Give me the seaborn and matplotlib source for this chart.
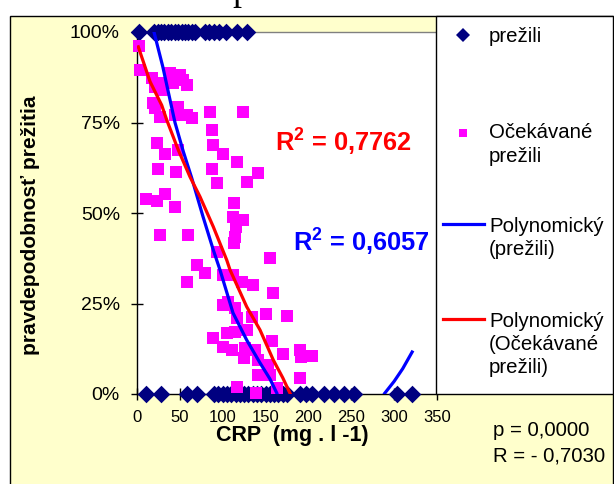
import numpy as np
import pandas as pd
import matplotlib
matplotlib.use("Agg")
import matplotlib.pyplot as plt
import seaborn as sns
from matplotlib.patches import Rectangle
from matplotlib.lines import Line2D
from matplotlib.ticker import PercentFormatter

# ---------------- data ----------------
survived_top_x = [2, 20, 24, 28, 32, 36, 40, 44, 48, 52, 56, 60, 64, 68,
                  79, 84, 90, 96, 104, 117, 128]
survived_bottom_x = [10, 28, 58, 70, 90, 95, 100, 105, 110, 115, 120, 125,
                     130, 135, 140, 145, 150, 155, 160, 165, 170, 175, 190,
                     197, 204, 218, 230, 241, 253, 303, 321]

expected_x = [2.7, 3.5, 17.1, 26.8, 38.5, 50.2, 54.0, 58.0, 42.4, 30.7, 21.0,
              19.0, 21.0, 48.2, 26.8, 44.3, 58.0, 63.8, 85.2, 124.0, 87.5,
              23.0, 32.7, 48.2, 89.0, 100.0, 117.0, 24.9, 45.5, 87.2, 141.5,
              93.0, 128.7, 10.5, 23.0, 32.7, 44.3, 113.5, 112.4, 124.0, 115.5,
              114.3, 113.5, 26.8, 59.2, 93.7, 155.2, 70.4, 79.3, 58.7, 100.0,
              112.4, 122.2, 135.7, 159.0, 100.7, 106.5, 114.3, 117.0, 133.8,
              150.5, 175.4, 89.0, 104.7, 114.3, 100.7, 110.5, 126.0, 137.7,
              157.2, 170.7, 190.2, 191.0, 203.8, 124.8, 141.5, 153.2, 141.5,
              155.2, 190.2, 117.0, 138.8, 163.0, 128.0]
expected_y = [96.2, 89.5, 87.2, 85.8, 88.6, 88.1, 86.7, 85.4, 85.8, 84.0, 84.9,
              80.3, 78.9, 79.4, 76.6, 77.1, 77.1, 76.2, 77.8, 77.8, 72.9,
              69.3, 66.2, 67.4, 68.8, 66.2, 64.0, 62.2, 61.4, 62.2, 61.0,
              58.2, 58.6, 53.8, 53.3, 55.2, 51.6, 52.8, 49.0, 48.1, 46.2,
              43.5, 41.6, 43.9, 43.9, 39.3, 37.5, 35.6, 33.3, 31.0, 32.9,
              32.9, 31.0, 30.1, 27.8, 24.6, 25.5, 23.7, 20.9, 21.4,
              22.1, 21.5, 15.4, 16.9, 17.2, 13.1, 12.2, 12.6, 12.2,
              14.7, 11.0, 12.2, 10.3, 10.5, 9.9, 9.4, 8.0, 5.2,
              5.2, 4.3, 2.0, 0.4, 1.6, 17.7]

# trend line "Polynomický (prežili)" - two visible pieces
poly_surv_x = [19.8, 30, 44.3, 54, 63.8, 77, 89, 96.8, 112, 128, 143.5, 155, 163,
               289, 300, 310, 321]
poly_surv_y = [100, 90.5, 75, 67, 59.7, 49, 39.8, 34.3, 22.4, 14.9, 8.6, 4.2, 0.3,
               0.2, 3.5, 7.0, 11.6]
poly_surv_seg = [1] * 13 + [2] * 4

# trend line "Polynomický (Očekávané prežili)"
poly_exp_x = [1.5, 15.2, 28.8, 34.7, 48, 61.8, 73.5, 89, 104.7, 108.5, 128,
              143.5, 159, 170, 178.5]
poly_exp_y = [95.9, 86.3, 79.8, 75.7, 67.5, 60, 54.5, 46.2, 37, 34.3, 24.1,
              17.7, 9.4, 4.5, 0.2]

x_ticks = [0, 50, 100, 150, 200, 250, 300, 350]
y_ticks = [0, 0.25, 0.5, 0.75, 1.0]

legend_labels = ["prežili", ["Očekávané", "prežili"], ["Polynomický", "(prežili)"],
                 ["Polynomický", "(Očekávané", "prežili)"]]

# ---------------- styling ----------------
plt.rcParams['font.family'] = ['Liberation Sans', 'DejaVu Sans']
plt.rcParams['mathtext.fontset'] = 'custom'
plt.rcParams['mathtext.rm'] = 'Liberation Sans'
plt.rcParams['mathtext.bf'] = 'Liberation Sans:bold'

NAVY = '#000080'
PINK = '#FF00FF'
BLUE = '#0000FF'
RED = '#FF0000'
YELLOW = '#FFFFCC'

W, H = 614, 484
def fx(px):
    return px / W
def fy(py):
    return 1 - py / H

fig = plt.figure(figsize=(W / 100, H / 100), dpi=100)
fig.patch.set_facecolor('white')

# chart area background with border
fig.add_artist(Rectangle((fx(9.5), -0.02), fx(612.5) - fx(9.5), fy(15.5) + 0.02,
                         transform=fig.transFigure, facecolor=YELLOW,
                         edgecolor='black', linewidth=1, zorder=-5))

# partially visible title above the chart (only its descender shows)
fig.text(fx(232), fy(0), 'p', family=['Liberation Serif', 'DejaVu Serif'],
         fontsize=26, va='baseline', ha='left', color='black')

ax = fig.add_axes([fx(137), fy(394), (437 - 137) / W, (394 - 32) / H])
ax.set_facecolor('white')

df_surv = pd.DataFrame({
    'x': survived_top_x + survived_bottom_x,
    'y': [1.0] * len(survived_top_x) + [0.0] * len(survived_bottom_x)})
df_exp = pd.DataFrame({'x': expected_x, 'y': np.array(expected_y) / 100})
df_ps = pd.DataFrame({'x': poly_surv_x, 'y': np.array(poly_surv_y) / 100,
                      'seg': poly_surv_seg})
df_pe = pd.DataFrame({'x': poly_exp_x, 'y': np.array(poly_exp_y) / 100})

sns.scatterplot(data=df_surv, x='x', y='y', marker='D', s=80, color=NAVY,
                linewidth=0, clip_on=False, zorder=3, ax=ax, legend=False)
sns.scatterplot(data=df_exp, x='x', y='y', marker='s', s=66, color=PINK,
                linewidth=0, clip_on=False, zorder=4, ax=ax, legend=False)
sns.lineplot(data=df_ps, x='x', y='y', units='seg', estimator=None, sort=False,
             color=BLUE, linewidth=2.3, zorder=5, ax=ax, legend=False)
sns.lineplot(data=df_pe, x='x', y='y', estimator=None, sort=False,
             color=RED, linewidth=2.3, zorder=6, ax=ax, legend=False)

ax.set_xlim(0, 350)
ax.set_ylim(0, 1)
ax.set_xticks(x_ticks)
ax.set_yticks(y_ticks)
ax.yaxis.set_major_formatter(PercentFormatter(xmax=1, decimals=0))
ax.tick_params(direction='inout', length=8.5, width=1, colors='black')
ax.tick_params(axis='x', labelsize=12, pad=7.5)
ax.tick_params(axis='y', labelsize=14, pad=8)
ax.grid(False)
for s in ['left', 'bottom']:
    ax.spines[s].set_color('black')
    ax.spines[s].set_linewidth(1)
for s in ['top', 'right']:
    ax.spines[s].set_color('#808080')
    ax.spines[s].set_linewidth(1)

ax.set_xlabel('CRP  (mg . l -1)', fontsize=15.5, fontweight='bold')
ax.xaxis.set_label_coords((292 - 137) / 300, (394 - 435) / 362)
ax.xaxis.label.set_va('center')
ax.set_ylabel('pravdepodobnosť prežitia', fontsize=15, fontweight='bold')
ax.yaxis.set_label_coords((31 - 137) / 300, (394 - 225) / 362)
ax.yaxis.label.set_va('center')

# R^2 annotations
ax.text(161, 0.669, r'R$^{\mathbf{2}}$ = 0,7762', color=RED, fontsize=18.3,
        fontweight='bold', va='baseline', ha='left', clip_on=False, zorder=7)
ax.text(182, 0.392, r'R$^{\mathbf{2}}$ = 0,6057', color=BLUE, fontsize=18.3,
        fontweight='bold', va='baseline', ha='left', clip_on=False, zorder=7)

# ---------------- legend (drawn in figure pixels) ----------------
fig.add_artist(Rectangle((fx(436), fy(394)), fx(612.5) - fx(436), fy(15.5) - fy(394),
                         transform=fig.transFigure, facecolor='white',
                         edgecolor='black', linewidth=1, zorder=10))
fig.add_artist(Line2D([fx(463)], [fy(35)], marker='D', markersize=7,
                      color=NAVY, markeredgewidth=0, linestyle='none',
                      transform=fig.transFigure, zorder=11))
fig.add_artist(Line2D([fx(463)], [fy(133)], marker='s', markersize=6.4,
                      color=PINK, markeredgewidth=0, linestyle='none',
                      transform=fig.transFigure, zorder=11))
fig.add_artist(Line2D([fx(443), fx(484)], [fy(224), fy(224)], color=BLUE,
                      linewidth=2.3, transform=fig.transFigure, zorder=11))
fig.add_artist(Line2D([fx(443), fx(484)], [fy(319), fy(319)], color=RED,
                      linewidth=2.3, transform=fig.transFigure, zorder=11))

leg_baselines = [[42], [138.5, 161.5], [231.7, 255], [326.7, 350, 373.3]]
for lab, bases in zip(legend_labels, leg_baselines):
    lines = [lab] if isinstance(lab, str) else lab
    for txt, b in zip(lines, bases):
        fig.text(fx(489), fy(b), txt, fontsize=14.7, va='baseline', ha='left',
                 color='black', zorder=12)

# statistics
fig.text(fx(493), fy(436.5), 'p = 0,0000', fontsize=14.7, va='baseline', ha='left')
fig.text(fx(493), fy(461.5), 'R = - 0,7030', fontsize=14.7, va='baseline', ha='left')

fig.savefig('out.png', dpi=100)
